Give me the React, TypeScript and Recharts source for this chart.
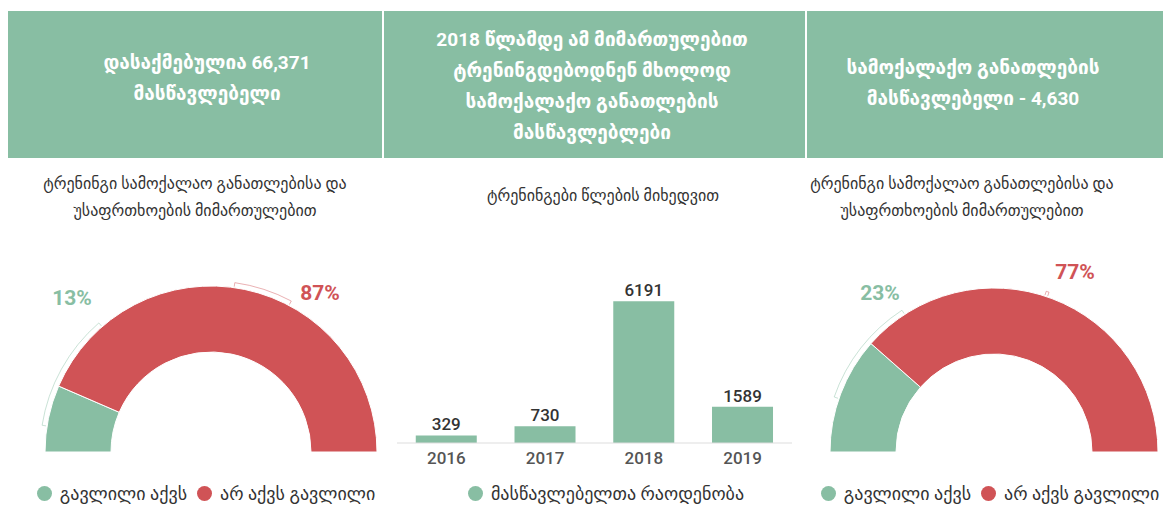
import React from 'react';
import { PieChart, Pie, Cell, BarChart, Bar, XAxis, YAxis, LabelList } from 'recharts';

const GREEN = '#88BEA3';
const RED = '#D05356';
const FONT = "Roboto, 'DejaVu Sans', sans-serif";

// left gauge: trained in civic education & safety
const gaugeLeftNames = ['გავლილი აქვს', 'არ აქვს გავლილი'];
const gaugeLeftValues = [13, 87];

// right gauge: civic education teachers
const gaugeRightNames = ['გავლილი აქვს', 'არ აქვს გავლილი'];
const gaugeRightValues = [23, 77];

// middle bars: trainings by year
const years = ['2016', '2017', '2018', '2019'];
const teacherCounts = [329, 730, 6191, 1589];
const barSeriesName = 'მასწავლებელთა რაოდენობა';

const headers = [
  ['დასაქმებულია 66,371', 'მასწავლებელი'],
  ['2018 წლამდე ამ მიმართულებით', 'ტრენინგდებოდნენ მხოლოდ', 'სამოქალაქო განათლების', 'მასწავლებლები'],
  ['სამოქალაქო განათლების', 'მასწავლებელი - 4,630'],
];
const subtitles = [
  ['ტრენინგი სამოქალაო განათლებისა და', 'უსაფრთხოების მიმართულებით'],
  ['ტრენინგები წლების მიხედვით'],
  ['ტრენინგი სამოქალაო განათლებისა და', 'უსაფრთხოების მიმართულებით'],
];

const colors = [GREEN, RED];

const RAD = Math.PI / 180;

// thin curved bracket that sits just outside the ring (label tick)
const arcPath = (cx: number, cy: number, r: number, a0: number, a1: number) => {
  const pt = (rr: number, a: number) => [cx + rr * Math.cos(a * RAD), cy - rr * Math.sin(a * RAD)];
  const [x0, y0] = pt(r, a0);
  const [x1, y1] = pt(r, a1);
  const [sx0, sy0] = pt(r - 4, a0);
  const [sx1, sy1] = pt(r - 4, a1);
  const sweep = a0 > a1 ? 1 : 0;
  return `M${sx0},${sy0} L${x0},${y0} A${r},${r} 0 0 ${sweep} ${x1},${y1} L${sx1},${sy1}`;
};

type GaugeProps = {
  names: string[];
  values: number[];
  left: number;
  width: number;
  cx: number;
  outer: number;
  inner: number;
  labelOffsets: number[][];
  brackets: number[][];
  legendCenter: number;
};

const Gauge = ({ names, values, left, width, cx, outer, inner, labelOffsets, brackets, legendCenter }: GaugeProps) => {
  const data = names.map((name, i) => ({ name, value: values[i] }));
  const cy = 202;
  const renderLabel = (p: any) => {
    const [dx, dy] = labelOffsets[p.index];
    const [a0, a1] = brackets[p.index];
    return (
      <g>
        <path d={arcPath(p.cx, p.cy, outer + 5, a0, a1)} fill="none" stroke={colors[p.index]} strokeOpacity={0.45} strokeWidth={1} />
        <text
          x={p.cx + dx}
          y={p.cy + dy}
          fill={colors[p.index]}
          textAnchor="middle"
          dominantBaseline="central"
          fontSize={21}
          fontWeight={700}
          fontFamily={FONT}
        >
          {p.value}%
        </text>
      </g>
    );
  };
  return (
    <div style={{ position: 'absolute', left, top: 250, width, height: 259 }}>
      <PieChart width={width} height={215} margin={{ top: 0, right: 0, bottom: 0, left: 0 }}>
        <Pie
          data={data}
          dataKey="value"
          cx={cx}
          cy={cy}
          startAngle={180}
          endAngle={0}
          innerRadius={inner}
          outerRadius={outer}
          stroke="#fff"
          strokeWidth={1}
          label={renderLabel}
          labelLine={false}
          isAnimationActive={false}
        >
          {data.map((d, i) => (
            <Cell key={d.name} fill={colors[i]} />
          ))}
        </Pie>
      </PieChart>
      <Legend items={data.map((d, i) => ({ label: d.name, color: colors[i] }))} center={legendCenter - left} top={233} />
    </div>
  );
};

const Legend = ({ items, center, top }: { items: { label: string; color: string }[]; center: number; top: number }) => (
  <div
    style={{
      position: 'absolute',
      top,
      left: center - 300,
      width: 600,
      display: 'flex',
      justifyContent: 'center',
      gap: 10,
    }}
  >
    {items.map((it) => (
      <div key={it.label} style={{ display: 'flex', alignItems: 'center', fontFamily: FONT, fontSize: 18, color: '#333' }}>
        <span
          style={{ width: 15, height: 15, borderRadius: 8, background: it.color, display: 'inline-block', marginRight: 8 }}
        />
        {it.label}
      </div>
    ))}
  </div>
);

export default function App() {
  const barData = years.map((year, i) => ({ year, value: teacherCounts[i] }));
  const panels = [
    { left: 8, width: 374, center: 207, sub: 195, headTop: 47 },
    { left: 384, width: 421, center: 592, sub: 603, headTop: 24 },
    { left: 807, width: 356, center: 973, sub: 962, headTop: 52 },
  ];
  return (
    <div style={{ position: 'absolute', left: 0, top: 0, width: 1163, height: 509, background: '#fff', fontFamily: FONT }}>
      {panels.map((p, i) => (
        <div
          key={i}
          style={{ position: 'absolute', left: p.left, top: 11, width: p.width, height: 147, background: GREEN }}
        />
      ))}
      {headers.map((lines, i) => (
        <div
          key={i}
          style={{
            position: 'absolute',
            left: panels[i].center - 250,
            width: 500,
            top: panels[i].headTop,
            textAlign: 'center',
            color: '#fff',
            fontWeight: 700,
            fontSize: 19,
            lineHeight: '31px',
          }}
        >
          {lines.map((l) => (
            <div key={l}>{l}</div>
          ))}
        </div>
      ))}
      {subtitles.map((lines, i) => (
        <div
          key={i}
          style={{
            position: 'absolute',
            left: panels[i].sub - 250,
            width: 500,
            top: lines.length > 1 ? 170 : 182,
            textAlign: 'center',
            color: '#333',
            fontSize: 16,
            lineHeight: '27px',
          }}
        >
          {lines.map((l) => (
            <div key={l}>{l}</div>
          ))}
        </div>
      ))}

      <Gauge
        names={gaugeLeftNames}
        values={gaugeLeftValues}
        left={0}
        width={390}
        cx={211}
        outer={166}
        inner={100}
        labelOffsets={[[-139, -154], [109, -159]]}
        brackets={[[171, 131], [82, 62]]}
        legendCenter={206}
      />

      <div style={{ position: 'absolute', left: 380, top: 260, width: 430, height: 249 }}>
        <BarChart width={430} height={215} data={barData} margin={{ top: 32, right: 18, bottom: 2, left: 17 }} barCategoryGap="19%">
          <YAxis hide domain={[0, 6600]} />
          <XAxis
            dataKey="year"
            axisLine={{ stroke: '#ddd' }}
            tickLine={false}
            tickMargin={3}
            tick={{ fill: '#555', fontSize: 17, fontWeight: 500, fontFamily: FONT }}
          />
          <Bar dataKey="value" fill={GREEN} isAnimationActive={false}>
            <LabelList dataKey="value" position="top" offset={5} fill="#333" fontSize={17} fontWeight={500} fontFamily={FONT} />
          </Bar>
        </BarChart>
        <Legend items={[{ label: barSeriesName, color: GREEN }]} center={606 - 380} top={223} />
      </div>

      <Gauge
        names={gaugeRightNames}
        values={gaugeRightValues}
        left={800}
        width={363}
        cx={194}
        outer={164}
        inner={98}
        labelOffsets={[[-114, -159], [81, -180]]}
        brackets={[[161, 123], [72, 71]]}
        legendCenter={990}
      />
    </div>
  );
}
